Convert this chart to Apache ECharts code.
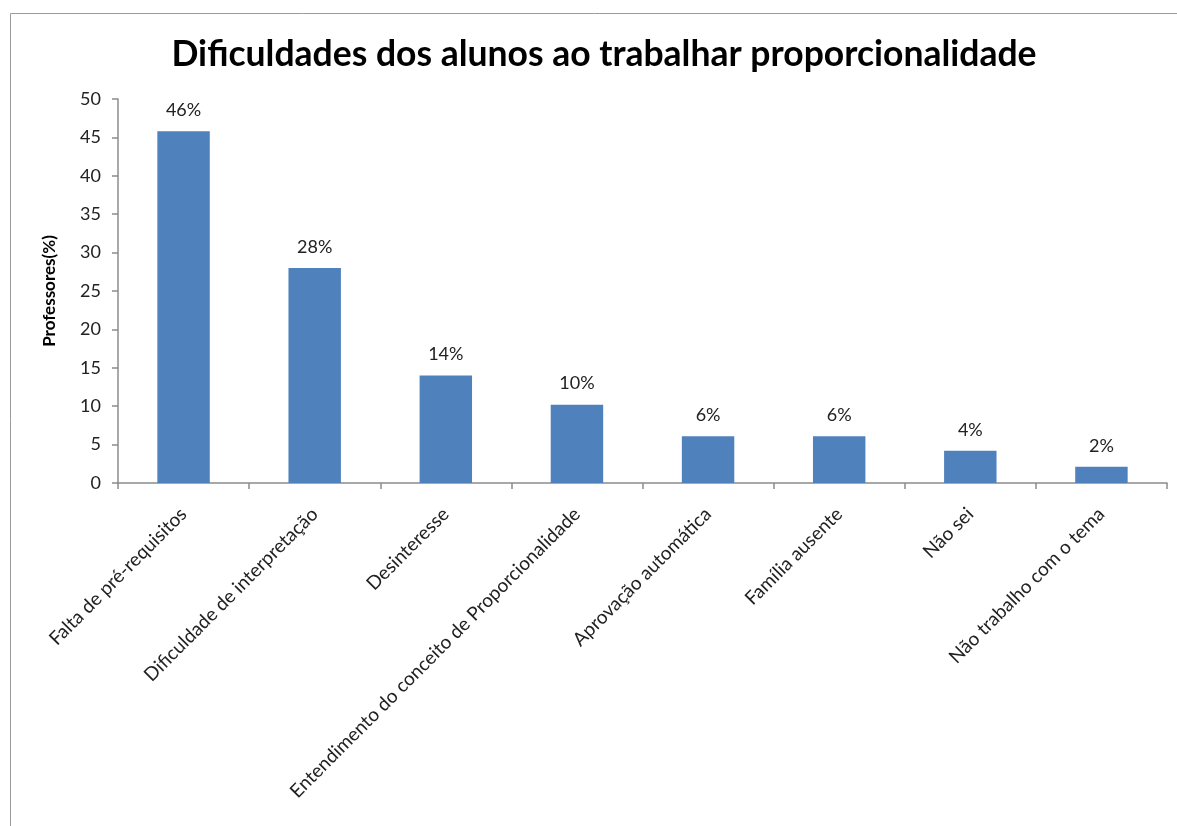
<!DOCTYPE html>
<html><head><meta charset="utf-8">
<script src="https://cdn.jsdelivr.net/npm/echarts@6/dist/echarts.min.js"></script>
<style>html,body{margin:0;padding:0;background:#fff}#c{width:1177px;height:826px}</style>
</head><body><div id="c"></div>
<script>
const categories = ["Falta de pré-requisitos","Dificuldade de interpretação","Desinteresse","Entendimento do conceito de Proporcionalidade","Aprovação automática","Família ausente","Não sei","Não trabalho com o tema"];
const values = [45.8, 28.0, 14.0, 10.2, 6.1, 6.1, 4.2, 2.1];
const yTicks = [0,5,10,15,20,25,30,35,40,45,50];
const titleText = "Dificuldades dos alunos ao trabalhar proporcionalidade";
const yName = "Professores(%)";
const font = "Lato, 'Open Sans', sans-serif";
const chart = echarts.init(document.getElementById('c'));
chart.setOption({
  animation:false,
  graphic:[{type:'rect',shape:{x:10.5,y:13.5,width:1300,height:1000},style:{fill:'none',stroke:'#9a9a9a',lineWidth:1},silent:true,z:-1}],
  title:{text:titleText,left:599,textAlign:'center',top:32,textStyle:{fontFamily:font,fontSize:35.5,fontWeight:'bold',color:'#000'}},
  grid:{left:118,top:99,right:10,bottom:343,containLabel:false},
  xAxis:{type:'category',data:categories,boundaryGap:true,
    axisLine:{lineStyle:{color:'#8c8c8c',width:1.5}},
    axisTick:{show:true,alignWithLabel:false,length:6,lineStyle:{color:'#8c8c8c',width:1.5}},
    axisLabel:{rotate:45,interval:0,margin:28,fontFamily:font,fontSize:19,color:'#222'}},
  yAxis:{type:'value',min:yTicks[0],max:yTicks[yTicks.length-1],interval:5,
    name:yName,nameLocation:'middle',nameGap:60,nameRotate:90,
    nameTextStyle:{fontFamily:font,fontSize:17,fontWeight:'bold',color:'#000'},
    axisLine:{show:true,lineStyle:{color:'#8c8c8c',width:1.5}},
    axisTick:{show:true,length:6,lineStyle:{color:'#8c8c8c',width:1.5}},
    splitLine:{show:false},
    axisLabel:{margin:17,fontFamily:font,fontSize:18,color:'#222'}},
  series:[{type:'bar',data:values,barWidth:'40%',
    itemStyle:{color:'#4f81bd'},
    label:{show:true,position:'top',distance:12,fontFamily:font,fontSize:18,color:'#222',
      formatter:p=>Math.round(p.value)+'%'}}]
});
</script></body></html>
